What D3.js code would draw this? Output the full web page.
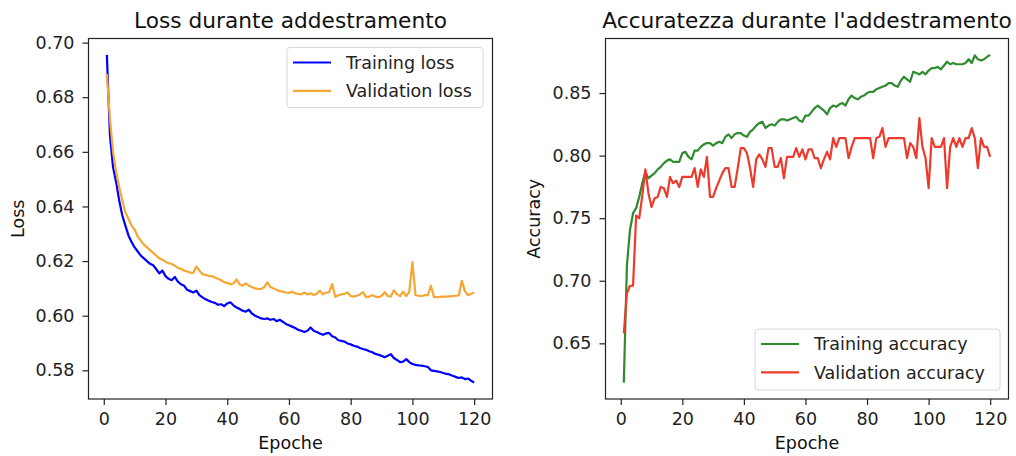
<!DOCTYPE html>
<html><head><meta charset="utf-8">
<script src="https://cdn.jsdelivr.net/npm/d3@7"></script>
<style>
html,body{margin:0;padding:0;background:#fff;}
svg{display:block;font-family:"DejaVu Sans",sans-serif;}
</style></head>
<body>
<svg id="chart" width="1016" height="456"></svg>
<script>
const trainLoss = [0.6955,0.666,0.6544,0.6489,0.6422,0.6367,0.633,0.6294,0.627,0.625,
0.6235,0.622,0.621,0.620,0.619,0.6185,0.617,0.6155,0.6165,0.6145,
0.6135,0.613,0.6142,0.6125,0.6115,0.611,0.6095,0.609,0.6085,0.6092,
0.6075,0.6067,0.606,0.6055,0.605,0.6047,0.604,0.6042,0.6035,0.6045,
0.6049,0.6038,0.603,0.6025,0.6018,0.6015,0.6022,0.6008,0.600,0.5995,
0.599,0.5988,0.599,0.5985,0.5988,0.598,0.5985,0.5978,0.597,0.5965,
0.596,0.5955,0.5948,0.5945,0.594,0.5945,0.5957,0.5945,0.594,0.5935,
0.593,0.5935,0.5937,0.5925,0.592,0.591,0.5908,0.5905,0.5898,0.5895,
0.589,0.5887,0.5882,0.5878,0.5875,0.587,0.5866,0.586,0.5857,0.5853,
0.5848,0.5853,0.5859,0.5845,0.5838,0.583,0.5832,0.5841,0.583,0.5823,
0.582,0.5818,0.5817,0.5815,0.5812,0.580,0.5798,0.5796,0.5794,0.579,
0.5787,0.5785,0.578,0.5776,0.5772,0.5774,0.5768,0.577,0.5762,0.5755];
const valLoss = [0.6885,0.672,0.660,0.6526,0.6471,0.6422,0.6379,0.6355,0.633,0.6315,
0.629,0.6275,0.626,0.625,0.624,0.623,0.622,0.621,0.6205,0.6198,
0.6192,0.619,0.6183,0.6175,0.6172,0.6165,0.6162,0.6158,0.6157,0.618,
0.6165,0.6152,0.615,0.6145,0.6145,0.614,0.6135,0.613,0.6123,0.612,
0.6115,0.6118,0.6133,0.6115,0.611,0.6118,0.611,0.6105,0.610,0.6098,
0.6097,0.6105,0.6122,0.6105,0.610,0.6095,0.609,0.6088,0.6085,0.6083,
0.6088,0.6082,0.608,0.6078,0.6085,0.6078,0.6082,0.6076,0.608,0.6092,
0.6078,0.6085,0.6085,0.6116,0.6069,0.6075,0.6078,0.608,0.6085,0.6072,
0.607,0.6073,0.6078,0.6086,0.6068,0.607,0.6075,0.607,0.6068,0.6072,
0.6086,0.6072,0.607,0.6093,0.6078,0.6072,0.6088,0.6072,0.6088,0.6196,
0.6075,0.6073,0.6072,0.6075,0.6075,0.611,0.6068,0.6068,0.6069,0.607,
0.607,0.6071,0.6072,0.6073,0.6074,0.6128,0.609,0.6075,0.608,0.6085];
const trainAcc = [0.6186,0.712,0.7406,0.754,0.758,0.767,0.778,0.787,0.782,0.784,
0.786,0.789,0.791,0.794,0.796,0.797,0.795,0.795,0.795,0.802,
0.803,0.799,0.797,0.804,0.804,0.807,0.809,0.810,0.810,0.808,
0.810,0.811,0.810,0.815,0.817,0.814,0.817,0.818,0.818,0.816,
0.815,0.819,0.821,0.824,0.826,0.827,0.822,0.824,0.825,0.824,
0.827,0.829,0.829,0.828,0.829,0.830,0.831,0.828,0.827,0.832,
0.832,0.835,0.838,0.840,0.838,0.836,0.833,0.838,0.840,0.839,
0.841,0.842,0.840,0.845,0.848,0.846,0.845,0.847,0.848,0.850,
0.851,0.851,0.853,0.854,0.855,0.856,0.858,0.858,0.856,0.855,
0.860,0.863,0.861,0.859,0.867,0.866,0.865,0.867,0.865,0.868,
0.870,0.870,0.871,0.869,0.872,0.875,0.873,0.874,0.873,0.873,
0.873,0.874,0.877,0.874,0.880,0.877,0.876,0.877,0.879,0.8805];
const valAcc = [0.658,0.690,0.696,0.696,0.752,0.750,0.768,0.789,0.770,0.759,
0.766,0.767,0.775,0.774,0.767,0.783,0.778,0.780,0.775,0.783,
0.783,0.783,0.783,0.790,0.775,0.789,0.783,0.799,0.767,0.767,
0.774,0.780,0.786,0.790,0.790,0.775,0.775,0.790,0.806,0.806,
0.802,0.790,0.775,0.797,0.801,0.797,0.791,0.806,0.806,0.791,
0.791,0.798,0.782,0.799,0.799,0.799,0.806,0.799,0.805,0.797,
0.805,0.805,0.798,0.798,0.790,0.797,0.803,0.797,0.814,0.807,
0.814,0.814,0.814,0.798,0.807,0.814,0.814,0.814,0.814,0.814,
0.814,0.798,0.814,0.815,0.822,0.807,0.814,0.814,0.814,0.814,
0.814,0.814,0.798,0.810,0.807,0.798,0.830,0.807,0.798,0.774,
0.814,0.807,0.807,0.807,0.814,0.774,0.807,0.814,0.807,0.814,
0.807,0.814,0.814,0.822,0.814,0.790,0.814,0.807,0.807,0.799];
const epochs = trainLoss.map((d,i)=>i+1);
const xTicks = [0,20,40,60,80,100,120];
const lossTicks = [0.58,0.60,0.62,0.64,0.66,0.68,0.70];
const accTicks = [0.65,0.70,0.75,0.80,0.85];

const FS = 17.5;
const svg = d3.select("#chart");
svg.append("rect").attr("width",1016).attr("height",456).attr("fill","#fff");

function panel(opt){
  const {left,right,top,bottom} = opt.box;
  const g = svg.append("g");
  const x = d3.scaleLinear().domain([-4.95,125.95]).range([left,right]);
  const all = opt.series.flatMap(s=>s.values);
  const [mn,mx] = d3.extent(all);
  const pad = (mx-mn)*0.05;
  const y = d3.scaleLinear().domain([mn-pad,mx+pad]).range([bottom,top]);

  const lines = g.append("g");
  opt.series.forEach(s=>{
    lines.append("path").datum(s.values)
      .attr("fill","none").attr("stroke",s.color).attr("stroke-width",2.2)
      .attr("stroke-linejoin","round")
      .attr("d",d3.line().x((d,i)=>x(epochs[i])).y(d=>y(d)));
  });

  const xa = g.append("g").attr("transform",`translate(0,${bottom})`)
    .call(d3.axisBottom(x).tickValues(xTicks).tickSize(6).tickPadding(8).tickFormat(d3.format("d")));
  const ya = g.append("g").attr("transform",`translate(${left},0)`)
    .call(d3.axisLeft(y).tickValues(opt.yTicks).tickSize(6).tickPadding(8).tickFormat(d3.format(".2f")));
  [xa,ya].forEach(a=>{
    a.select(".domain").remove();
    a.selectAll("line").attr("stroke","#222").attr("stroke-width",1.2);
    a.selectAll("text").attr("fill","#222").attr("font-size",FS).attr("font-family","DejaVu Sans");
  });
  g.append("rect").attr("x",left).attr("y",top).attr("width",right-left).attr("height",bottom-top)
    .attr("fill","none").attr("stroke","#222").attr("stroke-width",1.2);

  g.append("text").attr("x",(left+right)/2).attr("y",28).attr("text-anchor","middle")
    .attr("font-size",21.7).attr("fill","#111").text(opt.title);
  g.append("text").attr("x",(left+right)/2).attr("y",449).attr("text-anchor","middle")
    .attr("font-size",FS).attr("fill","#111").text("Epoche");
  g.append("text").attr("transform",`translate(${opt.ylabX},${(top+bottom)/2}) rotate(-90)`)
    .attr("text-anchor","middle").attr("font-size",FS).attr("fill","#111").text(opt.ylabel);

  const L = opt.legend;
  const lg = g.append("g");
  lg.append("rect").attr("x",L.x).attr("y",L.y).attr("width",L.w).attr("height",L.h)
    .attr("rx",3).attr("fill","#fff").attr("fill-opacity",0.8).attr("stroke","#d8d8d8");
  opt.series.forEach((s,i)=>{
    const yy = L.y + 15 + i*28.4;
    lg.append("line").attr("x1",L.x+6).attr("x2",L.x+44).attr("y1",yy).attr("y2",yy)
      .attr("stroke",s.color).attr("stroke-width",2.2);
    lg.append("text").attr("x",L.x+59).attr("y",yy+6.3).attr("font-size",FS).attr("fill","#222").text(s.name);
  });
}

panel({
  box:{left:88.5,right:492.5,top:38.5,bottom:399},
  series:[{name:"Training loss",values:trainLoss,color:"#0000ff"},
          {name:"Validation loss",values:valLoss,color:"#f5a733"}],
  yTicks:lossTicks, title:"Loss durante addestramento", ylabel:"Loss", ylabX:24,
  legend:{x:287,y:47.5,w:196,h:60}
});
panel({
  box:{left:605.5,right:1008.5,top:38.5,bottom:399},
  series:[{name:"Training accuracy",values:trainAcc,color:"#2e8b2e"},
          {name:"Validation accuracy",values:valAcc,color:"#ee3a2c"}],
  yTicks:accTicks, title:"Accuratezza durante l'addestramento", ylabel:"Accuracy", ylabX:540,
  legend:{x:755,y:329,w:245,h:61}
});
</script>
</body></html>
